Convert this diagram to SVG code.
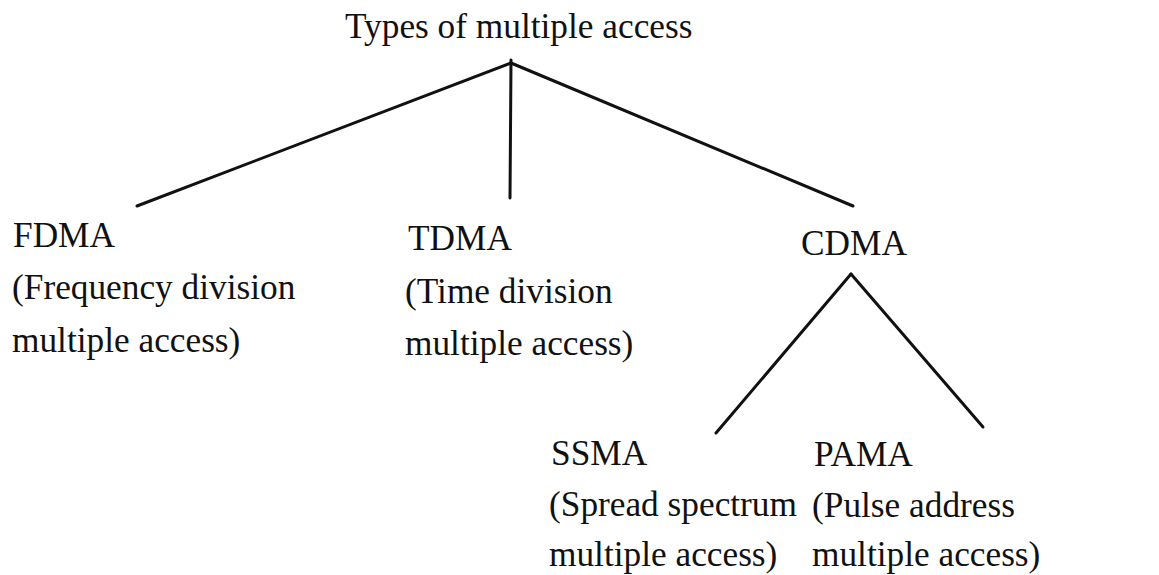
<svg xmlns="http://www.w3.org/2000/svg" width="1159" height="575" viewBox="0 0 1159 575">
  <style>
    .lbl { font-family: "Liberation Serif", "Times New Roman", serif; font-size: 35.3px; fill: #111; }
    .edge { stroke: #111; stroke-width: 3; stroke-linecap: round; fill: none; }
  </style>
  <rect width="1159" height="575" fill="#fff"/>

  <!-- tree branches -->
  <g id="connectors">
    <line class="edge" x1="511" y1="63" x2="137" y2="206"/>
    <line class="edge" x1="511" y1="60" x2="510" y2="198"/>
    <line class="edge" x1="511" y1="63" x2="853" y2="206"/>
    <line class="edge" x1="851" y1="274" x2="716" y2="433"/>
    <line class="edge" x1="851" y1="274" x2="983" y2="427"/>
  </g>

  <g id="root">
    <text class="lbl" x="345" y="38">Types of multiple access</text>
  </g>

  <g id="fdma">
    <text class="lbl" x="13" y="247">FDMA</text>
    <text class="lbl" x="12" y="299">(Frequency division</text>
    <text class="lbl" x="12" y="352">multiple access)</text>
  </g>

  <g id="tdma">
    <text class="lbl" x="408" y="250">TDMA</text>
    <text class="lbl" x="405" y="303">(Time division</text>
    <text class="lbl" x="405" y="355">multiple access)</text>
  </g>

  <g id="cdma">
    <text class="lbl" x="801" y="255">CDMA</text>
  </g>

  <g id="ssma">
    <text class="lbl" x="551" y="465">SSMA</text>
    <text class="lbl" x="549" y="516">(Spread spectrum</text>
    <text class="lbl" x="549" y="566">multiple access)</text>
  </g>

  <g id="pama">
    <text class="lbl" x="814" y="466">PAMA</text>
    <text class="lbl" x="812" y="517">(Pulse address</text>
    <text class="lbl" x="812" y="566">multiple access)</text>
  </g>
</svg>
